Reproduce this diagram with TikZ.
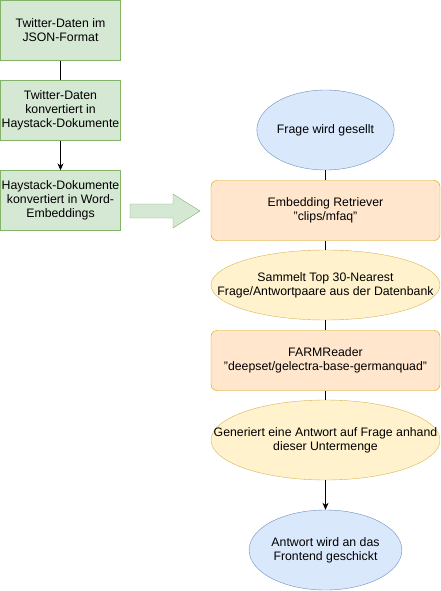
\documentclass[tikz,border=0pt]{standalone}
\usepackage{fontspec}
\setmainfont{Liberation Sans}
\usetikzlibrary{shapes.geometric,arrows.meta}

\definecolor{greenfill}{HTML}{D5E8D4}
\definecolor{greenline}{HTML}{82B366}
\definecolor{bluefill}{HTML}{DAE8FC}
\definecolor{blueline}{HTML}{6C8EBF}
\definecolor{orangefill}{HTML}{FFE6CC}
\definecolor{orangeline}{HTML}{D79B00}
\definecolor{yellowfill}{HTML}{FFF2CC}
\definecolor{yellowline}{HTML}{D6B656}

\begin{document}
\begin{tikzpicture}[x=1pt, y=-1pt,
        every node/.style={font=\fontsize{12.3}{13.8}\selectfont, align=center, inner sep=0pt},
        databox/.style={draw=greenline, fill=greenfill, minimum width=120pt, minimum height=60pt},
        stepellipse/.style={ellipse, draw=blueline, fill=bluefill, minimum width=120pt, minimum height=80pt},
        modelbox/.style={draw=orangeline, fill=orangefill, rounded corners=6pt, minimum width=229pt, minimum height=60pt},
        taskellipse/.style={ellipse, draw=yellowline, fill=yellowfill, minimum width=229pt},
        link/.style={line width=0.6pt}]
        \useasboundingbox (0,0) rectangle (441,591);

        \node[databox] (json) at (60.5, 30.5) {Twitter-Daten im\\JSON-Format};
        \node[databox] (haystack) at (60.5, 110.5) {Twitter-Daten\\konvertiert in\\Haystack-Dokumente};
        \node[databox] (embed) at (60.5, 200.5) {Haystack-Dokumente\\konvertiert in Word-\\Embeddings};

        \draw[link] (json) -- (haystack);
        \draw[link, -{Stealth[length=7pt, width=6pt]}] (haystack) -- (embed);

        % big arrow to the right column
        \filldraw[draw=greenline, fill=greenfill] (130,204) -- (173,204) -- (173,194) -- (200,211)
            -- (173,228) -- (173,218) -- (130,218) -- cycle;

        \node[stepellipse] (question) at (325.5, 130) {Frage wird gesellt};
        \node[modelbox] (retriever) at (325.5, 210.5) {Embedding Retriever\\"clips/mfaq"};
        \node[taskellipse, minimum height=70pt,
            label={[align=center]center:Sammelt Top 30-Nearest\\Frage/Antwortpaare aus der Datenbank}] (collect) at (325.5, 285) {};
        \node[modelbox] (reader) at (325.5, 360.5) {FARMReader\\"deepset/gelectra-base-germanquad"};
        \node[taskellipse, minimum height=80pt,
            label={[align=center]center:Generiert eine Antwort auf Frage anhand\\dieser Untermenge}] (generate) at (325.5, 440) {};
        \node[stepellipse] (answer) at (325.5, 550) {Antwort wird an das\\Frontend geschickt};

        \draw[link] (question) -- (retriever);
        \draw[link] (retriever) -- (collect);
        \draw[link] (collect) -- (reader);
        \draw[link] (reader) -- (generate);
        \draw[link, -{Stealth[length=7pt, width=6pt]}] (generate) -- (answer);
    \end{tikzpicture}
\end{document}
